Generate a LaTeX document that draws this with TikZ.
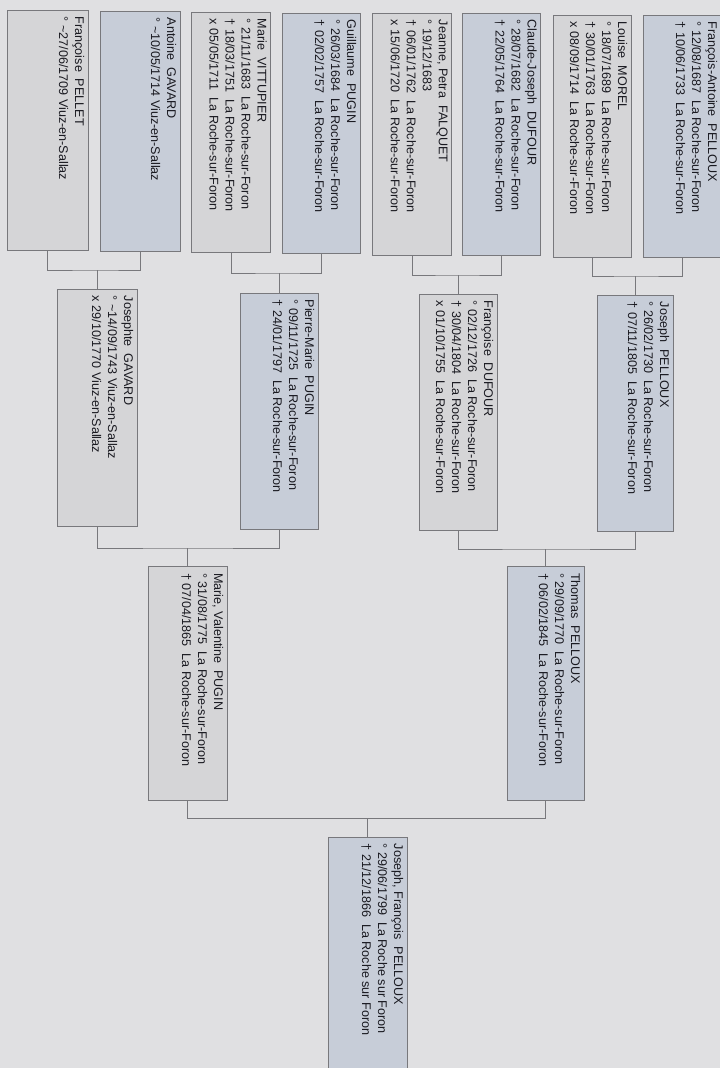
\documentclass[tikz,border=0pt]{standalone}
\usepackage{fontspec}
\setmainfont{Liberation Sans}
\usetikzlibrary{calc}
\definecolor{paper}{RGB}{224,224,226}
\definecolor{fembox}{RGB}{213,213,215}
\definecolor{manbox}{RGB}{199,205,216}
\definecolor{edge}{RGB}{120,120,124}
\definecolor{ink}{RGB}{25,25,32}
\newcommand{\tsep}{\hspace{0.55em}}
\tikzset{
  person/.style={draw=edge, line width=0.9pt, minimum width=#1, inner sep=0pt},
  woman/.style={person=#1, fill=fembox},
  man/.style={person=#1, fill=manbox},
  info/.style={rotate=-90, anchor=north west, align=left, inner sep=0pt,
    text=ink, font=\fontsize{12.6}{16}\selectfont},
  link/.style={draw=edge, line width=0.9pt}
}
\begin{document}
\begin{tikzpicture}[x=1pt,y=-1pt]
\useasboundingbox (0,0) rectangle (720,1068);
\fill[paper] (0,0) rectangle (720,1068);
% first row
\node[woman=81pt, minimum height=240pt] (p1) at (47.5,130) {};
\node[man=80pt, minimum height=240pt] (p2) at (140,131) {};
\node[woman=79pt, minimum height=240pt] (p3) at (231,132) {};
\node[man=78pt, minimum height=240pt] (p4) at (321,133) {};
\node[woman=79pt, minimum height=242pt] (p5) at (412,134) {};
\node[man=78pt, minimum height=242pt] (p6) at (501.5,134) {};
\node[woman=78pt, minimum height=242pt] (p7) at (592,136) {};
\node[man=78pt, minimum height=242pt] (p8) at (682,136) {};
\node[info] (t1) at ($(p1.north east)+(-4,7)$) {Françoise\tsep PELLET\\° \textasciitilde27/06/1709 Viuz-en-Sallaz};
\node[info] (t2) at ($(p2.north east)+(-4,7)$) {Antoine\tsep GAVARD\\° \textasciitilde10/05/1714 Viuz-en-Sallaz};
\node[info] (t3) at ($(p3.north east)+(-4,7)$) {Marie\tsep VITTUPIER\\° 21/11/1683\tsep La Roche-sur-Foron\\† 18/03/1751\tsep La Roche-sur-Foron\\x 05/05/1711\tsep La Roche-sur-Foron};
\node[info] (t4) at ($(p4.north east)+(-4,7)$) {Guillaume\tsep PUGIN\\° 26/03/1684\tsep La Roche-sur-Foron\\† 02/02/1757\tsep La Roche-sur-Foron};
\node[info] (t5) at ($(p5.north east)+(-4,7)$) {Jeanne, Petra\tsep FALQUET\\° 19/12/1683\\† 06/01/1762\tsep La Roche-sur-Foron\\x 15/06/1720\tsep La Roche-sur-Foron};
\node[info] (t6) at ($(p6.north east)+(-4,7)$) {Claude-Joseph\tsep DUFOUR\\° 28/07/1682\tsep La Roche-sur-Foron\\† 22/05/1764\tsep La Roche-sur-Foron};
\node[info] (t7) at ($(p7.north east)+(-4,7)$) {Louise\tsep MOREL\\° 18/07/1689\tsep La Roche-sur-Foron\\† 30/01/1763\tsep La Roche-sur-Foron\\x 08/09/1714\tsep La Roche-sur-Foron};
\node[info] (t8) at ($(p8.north east)+(-4,7)$) {François-Antoine\tsep PELLOUX\\° 12/08/1687\tsep La Roche-sur-Foron\\† 10/06/1733\tsep La Roche-sur-Foron};
% second row
\node[woman=80pt, minimum height=237pt] (j1) at (97,407.5) {};
\node[man=78pt, minimum height=236pt] (j2) at (279,411) {};
\node[woman=78pt, minimum height=236pt] (j3) at (458,412) {};
\node[man=76pt, minimum height=236pt] (j4) at (635,413) {};
\node[info] (u1) at ($(j1.north east)+(-4,7)$) {Josephte\tsep GAVARD\\° \textasciitilde14/09/1743 Viuz-en-Sallaz\\x 29/10/1770 Viuz-en-Sallaz};
\node[info] (u2) at ($(j2.north east)+(-4,7)$) {Pierre-Marie\tsep PUGIN\\° 09/11/1725\tsep La Roche-sur-Foron\\† 24/01/1797\tsep La Roche-sur-Foron};
\node[info] (u3) at ($(j3.north east)+(-4,7)$) {Françoise\tsep DUFOUR\\° 02/12/1726\tsep La Roche-sur-Foron\\† 30/04/1804\tsep La Roche-sur-Foron\\x 01/10/1755\tsep La Roche-sur-Foron};
\node[info] (u4) at ($(j4.north east)+(-4,7)$) {Joseph\tsep PELLOUX\\° 26/02/1730\tsep La Roche-sur-Foron\\† 07/11/1805\tsep La Roche-sur-Foron};
% third row
\node[woman=79pt, minimum height=234pt] (m) at (187.5,683.5) {};
\node[man=77pt, minimum height=234pt] (t) at (545.5,683.5) {};
\node[info] (v1) at ($(m.north east)+(-4,7)$) {Marie, Valentine\tsep PUGIN\\° 31/08/1775\tsep La Roche-sur-Foron\\† 07/04/1865\tsep La Roche-sur-Foron};
\node[info] (v2) at ($(t.north east)+(-4,7)$) {Thomas\tsep PELLOUX\\° 29/09/1770\tsep La Roche-sur-Foron\\† 06/02/1845\tsep La Roche-sur-Foron};
% root
\node[man=79pt, minimum height=240pt] (r) at (367.5,957) {};
\node[info] (w) at ($(r.north east)+(-4,7)$) {Joseph, François\tsep PELLOUX\\° 29/06/1799\tsep La Roche sur Foron\\† 21/12/1866\tsep La Roche sur Foron};
% bars
\coordinate (b1) at (j1.north |- 0,270);
\coordinate (b2) at (j2.north |- 0,273);
\coordinate (b3) at (j3.north |- 0,275);
\coordinate (b4) at (j4.north |- 0,276);
\coordinate (k1) at (m.north |- 0,548);
\coordinate (k2) at (t.north |- 0,549);
\coordinate (c) at (r.north |- 0,818);
\draw[link] (p1.south) |- (b1) -| (p2.south);
\draw[link] (p3.south) |- (b2) -| (p4.south);
\draw[link] (p5.south) |- (b3) -| (p6.south);
\draw[link] (p7.south) |- (b4) -| (p8.south);
\draw[link] (b1) -- (j1.north);
\draw[link] (b2) -- (j2.north);
\draw[link] (b3) -- (j3.north);
\draw[link] (b4) -- (j4.north);
\draw[link] (j1.south) |- (k1) -| (j2.south);
\draw[link] (j3.south) |- (k2) -| (j4.south);
\draw[link] (k1) -- (m.north);
\draw[link] (k2) -- (t.north);
\draw[link] (m.south) |- (c) -| (t.south);
\draw[link] (c) -- (r.north);
\end{tikzpicture}
\end{document}
